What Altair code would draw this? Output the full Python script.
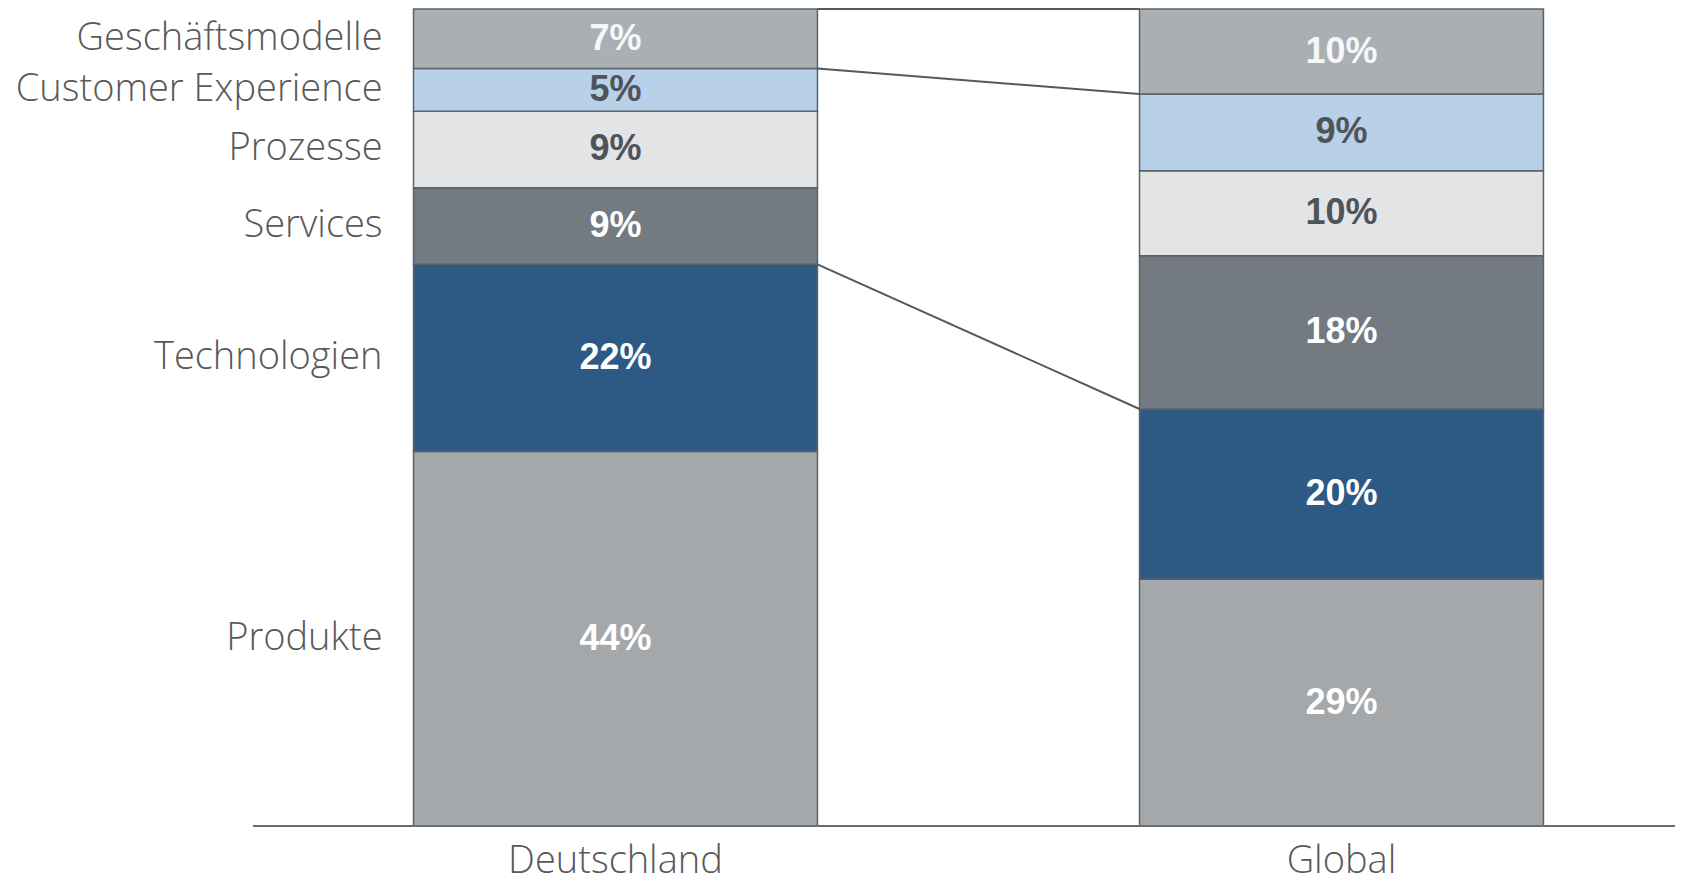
import altair as alt
import pandas as pd

# ---------------- data ----------------
countries = ["Deutschland", "Global"]
# stacking order: bottom -> top
segments = ["Produkte", "Technologien", "Services", "Prozesse",
            "Customer Experience", "Geschäftsmodelle"]
de_values = [44, 22, 9, 9, 5, 7]
gl_values = [29, 20, 18, 10, 9, 10]
values_by_country = {"Deutschland": de_values, "Global": gl_values}

# connector lines between the two bars (segment edges)
connect_bottom_of = ["Geschäftsmodelle", "Services"]
connect_top_of = ["Geschäftsmodelle"]

# ---------------- styles ----------------
fill_colors = {
    "Produkte": "#A4A8AB",
    "Technologien": "#2D5985",
    "Services": "#737A82",
    "Prozesse": "#E3E4E6",
    "Customer Experience": "#B8D0E8",
    "Geschäftsmodelle": "#AAAFB3",
}
text_colors = {
    "Produkte": "#FFFFFF",
    "Technologien": "#FFFFFF",
    "Services": "#FFFFFF",
    "Prozesse": "#4F545A",
    "Customer Experience": "#4F545A",
    "Geschäftsmodelle": "#F7F7F7",
}
HALF_W = 0.2782          # half bar width in x-units
W, H = 1422, 817         # plot area
LABEL_GREY = "#595959"

# ---------------- build table ----------------
rows = []
for ci, c in enumerate(countries):
    vals = values_by_country[c]
    total = float(sum(vals))
    cum = 0.0
    for s, v in zip(segments, vals):
        y0 = cum / total
        cum += v
        y1 = cum / total
        rows.append(dict(country=c, cidx=ci, segment=s, value=v,
                         label=f"{v}%", y0=y0, y1=y1, mid=(y0 + y1) / 2,
                         fill=fill_colors[s], tcolor=text_colors[s]))
df = pd.DataFrame(rows)

conn = []
for s in connect_bottom_of:
    a = df[(df.country == countries[0]) & (df.segment == s)].iloc[0]
    b = df[(df.country == countries[1]) & (df.segment == s)].iloc[0]
    conn.append(dict(fi=0, ti=1, ya=a.y0, yb=b.y0))
for s in connect_top_of:
    a = df[(df.country == countries[0]) & (df.segment == s)].iloc[0]
    b = df[(df.country == countries[1]) & (df.segment == s)].iloc[0]
    conn.append(dict(fi=0, ti=1, ya=a.y1, yb=b.y1))
conn_df = pd.DataFrame(conn)

cat_df = pd.DataFrame({"country": countries, "cidx": list(range(len(countries)))})

xs = alt.Scale(domain=[-0.4993, 1.4594], nice=False, zero=False)
ys = alt.Scale(domain=[0, 1], nice=False, zero=True)

base = alt.Chart(df).transform_calculate(
    xl=f"datum.cidx - {HALF_W}", xr=f"datum.cidx + {HALF_W}"
)

bars = base.mark_bar(stroke="#5E6267", strokeWidth=1.5).encode(
    x=alt.X("xl:Q", scale=xs, axis=None),
    x2="xr:Q",
    y=alt.Y("y0:Q", scale=ys, axis=None),
    y2="y1:Q",
    fill=alt.Fill("fill:N", scale=None),
)

pct = base.mark_text(font="Liberation Sans", fontWeight="bold", fontSize=36,
                     baseline="middle", align="center").encode(
    x=alt.X("cidx:Q", scale=xs),
    y=alt.Y("mid:Q", scale=ys),
    text="label:N",
    color=alt.Color("tcolor:N", scale=None),
)

seg_labels = base.transform_filter(
    alt.datum.country == countries[0]
).mark_text(font="Open Sans", fontWeight=300, fontSize=38, align="right",
            baseline="middle", dx=-31, color=LABEL_GREY).encode(
    x=alt.X("xl:Q", scale=xs),
    y=alt.Y("mid:Q", scale=ys),
    text="segment:N",
)

connectors = alt.Chart(conn_df).transform_calculate(
    xa=f"datum.fi + {HALF_W}", xb=f"datum.ti - {HALF_W}"
).mark_rule(color="#55595E", strokeWidth=2).encode(
    x=alt.X("xa:Q", scale=xs),
    x2="xb:Q",
    y=alt.Y("ya:Q", scale=ys),
    y2="yb:Q",
)

baseline = alt.Chart(cat_df).mark_rule(color="#6A6D70", strokeWidth=2).encode(
    y=alt.datum(0),
    x=alt.value(0),
    x2=alt.value(W),
)

cat_labels = alt.Chart(cat_df).mark_text(
    font="Open Sans", fontWeight=300, fontSize=38, align="center",
    baseline="alphabetic", dy=47, color=LABEL_GREY).encode(
    x=alt.X("cidx:Q", scale=xs),
    y=alt.datum(0),
    text="country:N",
)

chart = alt.layer(bars, connectors, baseline, pct, seg_labels, cat_labels).properties(
    width=W, height=H,
    autosize=alt.AutoSizeParams(type="none"),
    padding={"left": 245, "top": 1, "right": 0, "bottom": 61},
).configure_view(stroke=None)

chart.save("out.html", embed_options={"renderer": "svg", "actions": False})
